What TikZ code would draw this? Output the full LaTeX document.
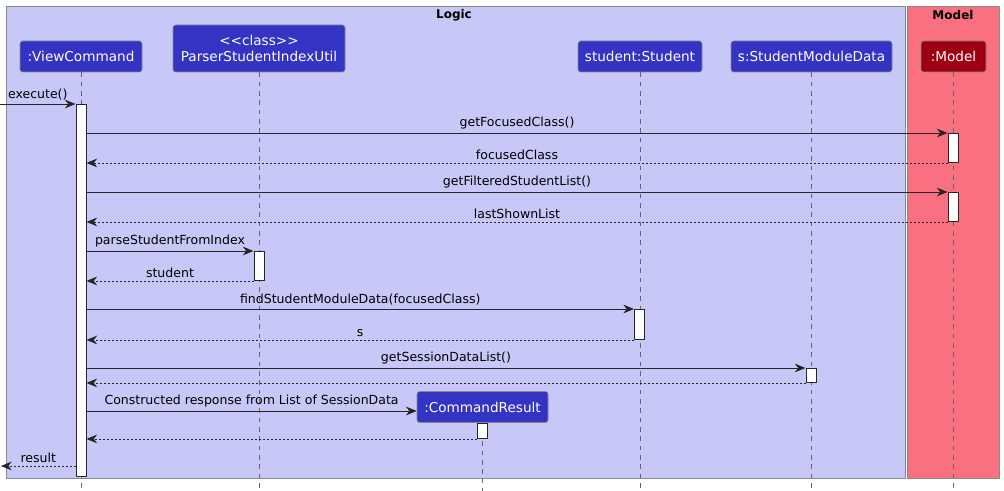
\documentclass[tikz,border=0pt]{standalone}
\usepackage{fontspec}
\setmainfont{DejaVu Sans}
\usetikzlibrary{arrows.meta}
\definecolor{logicbg}{HTML}{C8C8F8}
\definecolor{modelbg}{HTML}{F97181}
\definecolor{partblue}{HTML}{3333C4}
\definecolor{partred}{HTML}{9D0012}
\definecolor{framegray}{HTML}{888888}
\definecolor{lifegray}{HTML}{666666}
\begin{document}
\begin{tikzpicture}[x=0.75pt,y=-0.75pt,
  txt/.style={font=\fontsize{9.4}{11}\selectfont, inner sep=0pt},
  part/.style={font=\fontsize{10.2}{12.5}\selectfont, inner sep=0pt, draw=framegray, line width=0.4pt, rounded corners=2pt, fill=partblue, text=white, align=center, minimum height=23.25pt},
  modelpart/.style={part, fill=partred},
  act/.style={draw=black!85, fill=white, line width=0.7pt, minimum width=7.5pt, inner sep=0pt},
  lifeline/.style={draw=lifegray, line width=0.5pt, dash pattern=on 3.5pt off 3.5pt},
  call/.style={draw=black!85, line width=0.6pt, -{Stealth[length=8pt, width=6.5pt, inset=2.5pt]}},
  reply/.style={draw=black!85, line width=0.6pt, dash pattern=on 1.5pt off 1.5pt, -{Stealth[length=8pt, width=6.5pt, inset=2.5pt]}},
  msg/.style={txt, above=2.5pt},
  title/.style={font=\bfseries\fontsize{9}{10}\selectfont, inner sep=0pt}
]
\useasboundingbox (0,0) rectangle (1004,491);

% package frames
\fill[white] (0,0) rectangle (1004,491);
\draw[framegray, fill=logicbg, line width=0.6pt] (6,6) rectangle (905.5,478.5);
\draw[framegray, fill=modelbg, line width=0.6pt] (907.5,6) rectangle (999.5,478.5);
\node[title] (logic) at (454,15) {Logic};
\node[title] (model) at (953,15) {Model};

% participants
\node[part, minimum width=91.5pt] (vc) at (81,56.5) {:ViewCommand};
\node[part, minimum width=129pt, minimum height=35.25pt] (pu) at (259,48.5) {{<}{<}class{>}{>}\\ParserStudentIndexUtil};
\node[part, minimum width=93pt] (st) at (640,56.5) {student:Student};
\node[part, minimum width=120.75pt] (sm) at (811.5,56.5) {s:StudentModuleData};
\node[modelpart, minimum width=48.75pt] (md) at (953.5,56.5) {:Model};

% lifelines
\coordinate (vcend) at (81,491);
\draw[lifeline] (vc.south) -- (vcend);
\draw[lifeline] (pu.south) -- (pu.south |- vcend);
\draw[lifeline] (st.south) -- (st.south |- vcend);
\draw[lifeline] (sm.south) -- (sm.south |- vcend);
\draw[lifeline] (md.south) -- (md.south |- vcend);

% command result participant, created mid-sequence
\node[part, minimum width=98.25pt] (cr) at (482.5,407) {:CommandResult};
\draw[lifeline] (cr.south) -- (cr.south |- vcend);

% activation bars
\node[act, minimum height=279pt, anchor=north] (vca) at (81,104) {};
\node[act, minimum height=21.75pt, anchor=north] (mda1) at (953,133) {};
\node[act, minimum height=21.75pt, anchor=north] (mda2) at (953,192) {};
\node[act, minimum height=21.75pt, anchor=north] (pua) at (259,251) {};
\node[act, minimum height=22.5pt, anchor=north] (sta) at (639.5,309) {};
\node[act, minimum height=10.5pt, anchor=north] (sma) at (811,368) {};
\node[act, minimum height=11.25pt, anchor=north] (cra) at (482.5,423) {};

% incoming call and final reply
\coordinate (caller) at (0,104);
\coordinate (back) at (1,466);
\draw[call] (caller) -- node[msg] {execute()} (vca.north west);
\draw[reply] (vca.west |- back) -- node[msg] {result} (back);

% messages to the model
\draw[call] (vca.east |- mda1.north west) -- node[msg] {getFocusedClass()} (mda1.north west);
\draw[reply] (mda1.south west) -- node[msg] {focusedClass} (vca.east |- mda1.south west);
\draw[call] (vca.east |- mda2.north west) -- node[msg] {getFilteredStudentList()} (mda2.north west);
\draw[reply] (mda2.south west) -- node[msg] {lastShownList} (vca.east |- mda2.south west);

% parsing the student
\draw[call] (vca.east |- pua.north west) -- node[msg] {parseStudentFromIndex} (pua.north west);
\draw[reply] (pua.south west) -- node[msg] {student} (vca.east |- pua.south west);

% module data lookup
\draw[call] (vca.east |- sta.north west) -- node[msg] {findStudentModuleData(focusedClass)} (sta.north west);
\draw[reply] (sta.south west) -- node[msg] {s} (vca.east |- sta.south west);
\draw[call] (vca.east |- sma.north west) -- node[msg] {getSessionDataList()} (sma.north west);
\draw[reply] (sma.south west) -- (vca.east |- sma.south west);

% result construction
\draw[call] (vca.east |- 0,411) -- node[msg] {Constructed response from List of SessionData} (cr.west |- 0,411);
\draw[reply] (cra.south west) -- (vca.east |- cra.south west);
\end{tikzpicture}
\end{document}
